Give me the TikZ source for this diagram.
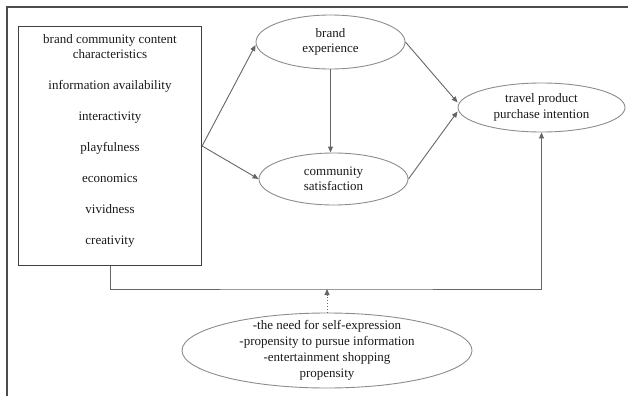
\documentclass[tikz,border=0pt]{standalone}
\usepackage{fontspec}
\setmainfont{Liberation Serif}
\usepackage{tikz}
\usetikzlibrary{positioning, shapes.geometric, arrows.meta}
\tikzset{
    rim/.style = {draw = black!70, line width = 1.6pt},
    factor/.style = {rectangle, draw = black!75, line width = 1.2pt, minimum width = 183pt, minimum height = 239pt},
    construct/.style = {ellipse, draw = black!45, line width = 0.9pt, inner sep = 0pt, align = center},
    link/.style = {draw = black!60, line width = 0.9pt, -{Triangle[length = 6pt, width = 5pt]}},
    every node/.append style = {font = \fontsize{13pt}{15.5pt}\selectfont, text = black!90}
}
\begin{document}
\begin{tikzpicture}[x = 1pt, y = -1pt]
        \useasboundingbox (0, 0) rectangle (628, 396);
        \draw [rim] (7, 396) -- (7, 7) -- (628, 7);
        \node [factor] (1) at (110, 146) {};
        \node [align = center] (t1) at (110, 141) {brand community content\\characteristics\\[15.5pt]information availability\\[15.5pt]interactivity\\[15.5pt]playfulness\\[15.5pt]economics\\[15.5pt]vividness\\[15.5pt]creativity};
        \node [construct, minimum width = 149pt, minimum height = 54pt] (2) at (330.5, 42) {brand\\experience};
        \node [construct, minimum width = 149pt, minimum height = 52pt] (3) at (333.5, 179) {community\\satisfaction};
        \node [construct, minimum width = 167pt, minimum height = 49pt] (4) at (541.5, 107.5) {travel product\\purchase intention};
        \node [construct, minimum width = 290pt, minimum height = 75pt, inner ysep = -5pt, font = \fontsize{13pt}{16pt}\selectfont] (5) at (327, 350.5) {-the need for self-expression\\-propensity to pursue information\\-entertainment shopping\\propensity};
        \coordinate (f) at (327, 289);
        \draw [link] (1.east) -- ([yshift = -3pt]2.west);
        \draw [link] (1.east) -- (3.west);
        \draw [link] (2.south) -- (2.south |- 3.north);
        \draw [link] (2.east) -- ([yshift = 5pt]4.west);
        \draw [link] (3.east) -- ([yshift = -4pt]4.west);
        \draw [link] (1.south) |- (f) -| (4.south);
        \draw [link, dotted] (5.north) -- (f);
    \end{tikzpicture}
\end{document}
